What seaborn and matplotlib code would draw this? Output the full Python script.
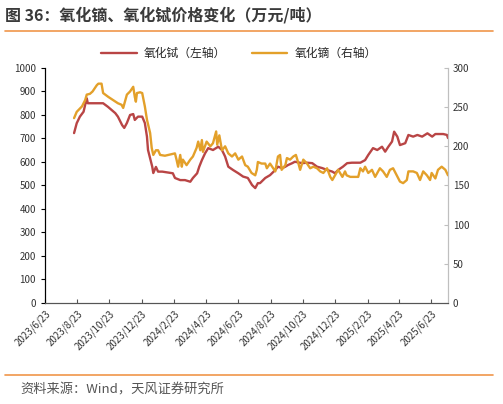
import pandas as pd
import matplotlib.pyplot as plt
import seaborn as sns

# 氧化铽价格（左轴，万元/吨）
tb_dates = ['2023-08-17', '2023-08-22', '2023-08-28', '2023-09-04', '2023-09-07', '2023-09-10',
            '2023-09-12', '2023-10-11', '2023-10-20', '2023-11-03', '2023-11-08', '2023-11-16',
            '2023-11-20', '2023-11-25', '2023-12-01', '2023-12-07', '2023-12-10', '2023-12-16',
            '2023-12-24', '2023-12-29', '2024-01-02', '2024-01-04', '2024-01-12', '2024-01-14',
            '2024-01-19', '2024-01-23', '2024-01-31', '2024-02-20', '2024-02-24', '2024-03-05',
            '2024-03-14', '2024-03-24', '2024-03-29', '2024-04-06', '2024-04-10', '2024-04-15',
            '2024-04-21', '2024-04-27', '2024-05-06', '2024-05-16', '2024-05-23', '2024-05-29',
            '2024-06-04', '2024-06-13', '2024-06-23', '2024-07-02', '2024-07-11', '2024-07-19',
            '2024-07-25', '2024-07-30', '2024-08-03', '2024-08-13', '2024-08-22', '2024-09-01',
            '2024-09-06', '2024-09-14', '2024-09-20', '2024-09-25', '2024-10-03', '2024-10-08',
            '2024-10-22', '2024-10-31', '2024-11-10', '2024-11-19', '2024-11-29', '2024-12-08',
            '2024-12-18', '2024-12-23', '2024-12-29', '2025-01-07', '2025-01-15', '2025-01-24',
            '2025-02-09', '2025-02-18', '2025-02-24', '2025-03-05', '2025-03-13', '2025-03-22',
            '2025-03-28', '2025-04-03', '2025-04-10', '2025-04-14', '2025-04-20', '2025-04-25',
            '2025-05-05', '2025-05-11', '2025-05-20', '2025-05-28', '2025-06-06', '2025-06-16',
            '2025-06-25', '2025-07-01', '2025-07-16', '2025-07-23', '2025-07-25']
tb_price = [723, 765, 793, 814, 843, 871,
            850, 850, 835, 808, 793, 757,
            745, 766, 800, 804, 779, 793,
            793, 766, 708, 651, 580, 553,
            579, 559, 559, 552, 532, 523,
            523, 516, 532, 552, 580, 608,
            637, 659, 651, 665, 651, 623,
            580, 566, 552, 538, 532, 502,
            489, 510, 510, 532, 544, 566,
            580, 574, 580, 587, 595, 601,
            595, 597, 595, 580, 574, 566,
            559, 552, 566, 580, 595, 597,
            597, 608, 630, 659, 651, 665,
            644, 665, 687, 729, 708, 672,
            680, 715, 708, 715, 708, 722,
            708, 719, 719, 715, 702]

# 氧化镝价格（右轴，万元/吨）
dy_dates = ['2023-08-17', '2023-08-22', '2023-09-01', '2023-09-07', '2023-09-10', '2023-09-16',
            '2023-09-21', '2023-09-29', '2023-10-02', '2023-10-08', '2023-10-11', '2023-10-21',
            '2023-10-30', '2023-11-08', '2023-11-15', '2023-11-18', '2023-11-22', '2023-11-25',
            '2023-12-01', '2023-12-07', '2023-12-10', '2023-12-12', '2023-12-14', '2023-12-20',
            '2023-12-24', '2023-12-29', '2024-01-02', '2024-01-08', '2024-01-11', '2024-01-14',
            '2024-01-19', '2024-01-23', '2024-01-27', '2024-02-05', '2024-02-24', '2024-02-27',
            '2024-03-01', '2024-03-05', '2024-03-08', '2024-03-10', '2024-03-17', '2024-03-24',
            '2024-03-29', '2024-04-05', '2024-04-08', '2024-04-12', '2024-04-15', '2024-04-17',
            '2024-04-24', '2024-05-01', '2024-05-06', '2024-05-12', '2024-05-14', '2024-05-18',
            '2024-05-23', '2024-05-29', '2024-06-04', '2024-06-11', '2024-06-17', '2024-06-23',
            '2024-06-30', '2024-07-06', '2024-07-11', '2024-07-18', '2024-07-25', '2024-07-28',
            '2024-07-30', '2024-08-06', '2024-08-13', '2024-08-16', '2024-08-22', '2024-08-28',
            '2024-09-01', '2024-09-06', '2024-09-10', '2024-09-13', '2024-09-20', '2024-09-23',
            '2024-09-29', '2024-10-05', '2024-10-10', '2024-10-14', '2024-10-18', '2024-10-24',
            '2024-10-31', '2024-11-06', '2024-11-12', '2024-11-19', '2024-11-25', '2024-12-01',
            '2024-12-08', '2024-12-14', '2024-12-18', '2024-12-23', '2024-12-29', '2025-01-06',
            '2025-01-11', '2025-01-14', '2025-01-21', '2025-02-05', '2025-02-09', '2025-02-14',
            '2025-02-18', '2025-02-24', '2025-03-03', '2025-03-09', '2025-03-18', '2025-03-24',
            '2025-03-31', '2025-04-06', '2025-04-12', '2025-04-19', '2025-04-25', '2025-05-01',
            '2025-05-08', '2025-05-11', '2025-05-20', '2025-05-27', '2025-06-02', '2025-06-08',
            '2025-06-15', '2025-06-21', '2025-06-24', '2025-07-01', '2025-07-06', '2025-07-13',
            '2025-07-20', '2025-07-25']
dy_price = [236, 244, 251, 259, 266, 267,
            270, 278, 280, 280, 268, 263,
            259, 255, 253, 249, 259, 266,
            270, 276, 263, 257, 268, 269,
            268, 251, 234, 217, 198, 189,
            195, 195, 189, 188, 191, 183,
            174, 189, 174, 183, 176, 183,
            187, 198, 206, 195, 208, 193,
            206, 200, 204, 219, 202, 214,
            195, 200, 191, 187, 191, 183,
            187, 176, 174, 166, 163, 170,
            180, 178, 178, 172, 178, 172,
            168, 187, 189, 170, 176, 185,
            183, 187, 189, 180, 170, 183,
            178, 172, 174, 172, 168, 166,
            172, 161, 157, 163, 170, 161,
            168, 163, 161, 161, 172, 168,
            174, 166, 170, 161, 172, 168,
            161, 170, 172, 163, 155, 153,
            157, 168, 168, 166, 157, 168,
            163, 157, 166, 159, 170, 174,
            170, 163]

tick_labels = ['2023/6/23', '2023/8/23', '2023/10/23', '2023/12/23', '2024/2/23', '2024/4/23',
               '2024/6/23', '2024/8/23', '2024/10/23', '2024/12/23', '2025/2/23', '2025/4/23',
               '2025/6/23']

df_tb = pd.DataFrame({'date': pd.to_datetime(tb_dates), 'price': tb_price})
df_dy = pd.DataFrame({'date': pd.to_datetime(dy_dates), 'price': dy_price})

sns.set_style('white')
plt.rcParams['font.family'] = ['Noto Sans CJK SC', 'DejaVu Sans']

red = '#B94545'
gold = '#E3A02A'
orange = '#F0964A'

fig = plt.figure(figsize=(5.03, 4.04), dpi=100)
ax = fig.add_axes([0.0895, 0.25, 0.8012, 0.5817])
ax2 = ax.twinx()

sns.lineplot(data=df_tb, x='date', y='price', ax=ax, color=red, linewidth=1.7, label='氧化铽（左轴）', legend=False)
sns.lineplot(data=df_dy, x='date', y='price', ax=ax2, color=gold, linewidth=1.7, label='氧化镝（右轴）', legend=False)

ticks = pd.to_datetime([t.replace('/', '-') for t in tick_labels])
ax.set_xticks(ticks)
ax.set_xticklabels(tick_labels, rotation=45, ha='right', rotation_mode='anchor', fontsize=7, color='#333333')
ax.set_xlim(ticks[0], df_tb['date'].iloc[-1])
ax.set_ylim(0, 1000)
ax2.set_ylim(0, 300)
ax.set_yticks(range(0, 1001, 100))
ax2.set_yticks(range(0, 301, 50))
ax.set_xlabel('')
ax.set_ylabel('')
ax2.set_ylabel('')
ax.tick_params(axis='y', labelsize=7, length=3, direction='out', color='#000000', labelcolor='#333333', left=True)
ax.tick_params(axis='x', length=3, direction='in', color='#555555', bottom=True, pad=4)
ax2.tick_params(axis='y', labelsize=7, length=3, direction='in', color='#BFBFBF', labelcolor='#333333', right=True)

for a in (ax, ax2):
    a.spines['top'].set_visible(False)
    a.spines['left'].set_color('#000000')
    a.spines['bottom'].set_color('#555555')
    a.spines['right'].set_color('#BFBFBF')
    a.grid(False)

h1, l1 = ax.get_legend_handles_labels()
h2, l2 = ax2.get_legend_handles_labels()
fig.legend(h1 + h2, l1 + l2, loc='center', bbox_to_anchor=(0.475, 0.868), ncol=2, frameon=False,
           fontsize=8.5, handlelength=3, columnspacing=2.2, handletextpad=0.6)

fig.text(0.01, 0.962, '图 36：氧化镝、氧化铽价格变化（万元/吨）', fontsize=11.5, fontweight='bold',
         color='#3A3A3A', va='center', ha='left')
fig.add_artist(plt.Line2D([0.01, 0.98], [0.923, 0.923], color=orange, linewidth=1.2))
fig.add_artist(plt.Line2D([0.01, 0.98], [0.072, 0.072], color=orange, linewidth=1.2))
fig.text(0.04, 0.035, '资料来源：Wind，天风证券研究所', fontsize=9.5, color='#555555', va='center', ha='left')

fig.savefig('out.png', dpi=100)
